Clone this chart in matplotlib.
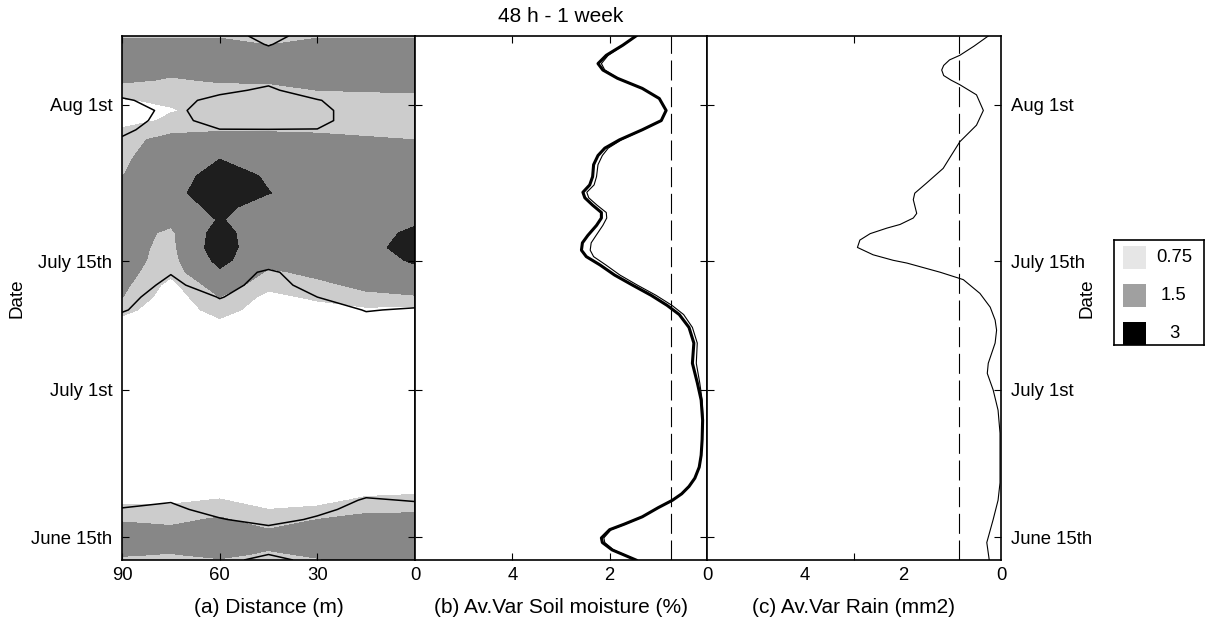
"""
Variance of soil moisture and rain, 48 h - 1 week window.
Panel (a): variance contours along the transect, (b) soil moisture, (c) rain.
"""

import matplotlib
matplotlib.use('Agg')
import matplotlib.pyplot as plt
import numpy as np
from matplotlib.patches import Rectangle

plt.rcParams['font.family'] = ['Liberation Sans', 'DejaVu Sans']
plt.rcParams['font.size'] = 13.3

# ---- data -------------------------------------------------------------
# dates are days counted from July 1st (June 15th = -16, Aug 1st = 31)
date_ticks = [-16, 0, 14, 31]
date_labels = ['June 15th', 'July 1st', 'July 15th', 'Aug 1st']

# (a) variance field along the transect
distance_m = [90, 75, 60, 45, 30, 15, 0]
row_days = [38.5, 37.6, 35.7, 33.7, 32.6, 31.5, 30.4, 29.3, 28.3, 27.2,
            25.2, 23.3, 21.4, 19.9, 18.5, 17.1, 15.5, 14.1, 12.8, 11.4,
            10.1, 8.7, 7.4, -10.9, -12.0, -13.0, -14.1, -15.4, -16.8, -17.9,
            -18.5]
var_grid = [
    [1.35, 1.35, 1.35, 1.2, 1.35, 1.35, 1.35],
    [1.9, 1.9, 1.9, 1.45, 1.9, 1.9, 1.9],
    [2.2, 2.0, 2.1, 2.1, 2.2, 2.2, 2.2],
    [1.7, 1.4, 1.6, 1.6, 1.9, 1.9, 2.0],
    [1.0, 1.1, 1.2, 1.3, 1.5, 1.55, 1.6],
    [0.7, 0.85, 1.1, 1.1, 1.2, 1.2, 1.2],
    [0.3, 0.7, 1.0, 1.0, 1.1, 1.1, 1.1],
    [0.4, 0.9, 1.1, 1.1, 1.1, 1.1, 1.1],
    [0.85, 1.3, 1.4, 1.4, 1.35, 1.3, 1.2],
    [1.2, 1.8, 2.0, 1.9, 1.8, 1.6, 1.5],
    [1.3, 2.2, 2.95, 2.3, 2.1, 2.0, 1.9],
    [1.48, 2.1, 3.8, 2.8, 2.2, 2.1, 2.0],
    [2.0, 2.5, 4.0, 3.05, 2.3, 2.2, 2.1],
    [2.0, 1.9, 3.6, 2.0, 2.2, 2.3, 2.3],
    [2.0, 1.8, 3.1, 2.2, 2.2, 2.3, 2.7],
    [2.0, 1.3, 3.6, 1.8, 2.2, 2.4, 3.3],
    [1.9, 1.2, 3.8, 1.7, 2.2, 2.4, 3.8],
    [1.9, 1.1, 3.4, 1.8, 2.0, 2.3, 3.2],
    [1.8, 0.95, 2.8, 1.35, 1.7, 2.0, 2.6],
    [1.7, 0.5, 2.0, 1.0, 1.3, 1.7, 2.0],
    [1.52, 0.3, 1.5, 0.5, 0.9, 1.3, 1.4],
    [1.0, 0.2, 1.1, 0.3, 0.4, 0.6, 0.5],
    [0.5, 0.2, 0.6, 0.2, 0.2, 0.3, 0.3],
    [0.3, 0.3, 0.4, 0.2, 0.2, 0.5, 0.6],
    [0.6, 0.6, 0.8, 0.4, 0.5, 0.9, 0.95],
    [0.95, 0.95, 1.2, 0.75, 0.9, 1.3, 1.4],
    [1.4, 1.3, 1.6, 1.1, 1.5, 1.8, 1.7],
    [1.9, 1.7, 2.1, 1.6, 1.9, 2.1, 2.0],
    [2.0, 1.8, 2.2, 1.8, 2.0, 2.2, 2.2],
    [1.6, 1.45, 1.8, 1.3, 1.7, 2.0, 2.2],
    [1.3, 1.2, 1.4, 1.1, 1.4, 1.9, 2.1],
]
# significance field, outlined with the black contour at 1
sig_grid = [
    [2, 2, 2, 0.3, 2, 2, 2],
    [2, 2, 2, 0.9, 2, 2, 2],
    [2, 2, 2, 2, 2, 2, 2],
    [2, 2, 2, 1.4, 2, 2, 2],
    [1.6, 2, 1.4, 0.7, 2, 2, 2],
    [0.8, 1.6, 0.5, 0, 0.9, 2, 2],
    [0, 1.5, 0, 0, 0.5, 2, 2],
    [0.3, 1.6, 0.3, 0, 0.5, 2, 2],
    [0.6, 2, 1.05, 1.05, 1.05, 2, 2],
    [1.2, 2, 2, 2, 2, 2, 2],
    [2, 2, 2, 2, 2, 2, 2],
    [2, 2, 2, 2, 2, 2, 2],
    [2, 2, 2, 2, 2, 2, 2],
    [2, 2, 2, 2, 2, 2, 2],
    [2, 2, 2, 2, 2, 2, 2],
    [2, 2, 2, 2, 2, 2, 2],
    [2, 2, 2, 2, 2, 2, 2],
    [2, 2, 2, 2, 2, 2, 2],
    [2, 1.1, 2, 0.7, 2, 2, 2],
    [2, 0.56, 2, 0, 2, 2, 2],
    [2, -0.58, 1.1, 0, 1.0, 2, 2],
    [1.15, 0, 0.3, 0, 0, 1.1, 0.8],
    [0.4, 0, 0, 0, 0, 0.4, 0],
    [0, 0, 0, 0, 0, 0.4, 0.3],
    [0.5, 0.8, 0, 0, 0, 1.2, 0.9],
    [1.1, 1.6, 0, 0, 0.3, 2, 1.6],
    [2, 2, 1.2, 0, 1.4, 2, 2],
    [2, 2, 2, 2, 2, 2, 2],
    [2, 2, 2, 2, 2, 2, 2],
    [2, 2, 2, 1.0, 2, 2, 2],
    [2, 2, 2, 0, 2, 2, 2],
]
fill_levels = [-1, 0.75, 1.5, 3, 10]
fill_colors = ['white', '#cccccc', '#878787', '#1e1e1e']

# (b) average variance of soil moisture (%)
soil_days = [38.5, 37.5, 36.4, 35.5, 34.8, 33.9, 32.8, 31.7, 30.4, 29.3,
             28.3, 27.2, 26.3, 25.5, 24.5, 23.2, 22.3, 21.5, 20.9, 20.1,
             19.3, 18.7, 17.9, 16.8, 16.0, 15.2, 14.5, 13.6, 12.5, 11.4,
             10.3, 9.2, 8.2, 6.8, 5.1, 2.9, 0.8, -1.1, -3.3, -5.4,
             -7.1, -8.4, -9.6, -10.5, -11.3, -12.0, -12.8, -13.8, -14.6, -15.2,
             -16.1, -16.6, -17.4, -18.5]
soil_var_a = [1.46, 1.73, 2.07, 2.24, 2.14, 1.84, 1.33, 0.98, 0.84, 0.94,
              1.33, 1.8, 2.1, 2.24, 2.33, 2.35, 2.41, 2.55, 2.51, 2.35,
              2.17, 2.17, 2.27, 2.45, 2.56, 2.58, 2.48, 2.2, 1.9, 1.53,
              1.15, 0.82, 0.57, 0.37, 0.27, 0.3, 0.2, 0.12, 0.09, 0.1,
              0.12, 0.16, 0.25, 0.37, 0.52, 0.71, 1.0, 1.33, 1.7, 2.0,
              2.17, 2.15, 1.95, 1.46]
soil_var_b = [1.46, 1.72, 2.03, 2.17, 2.10, 1.83, 1.33, 0.98, 0.84, 0.94,
              1.32, 1.76, 2.03, 2.15, 2.24, 2.27, 2.32, 2.47, 2.43, 2.26,
              2.07, 2.06, 2.14, 2.28, 2.38, 2.40, 2.33, 2.08, 1.79, 1.43,
              1.05, 0.72, 0.48, 0.3, 0.2, 0.22, 0.15, 0.1, 0.08, 0.1,
              0.12, 0.16, 0.25, 0.37, 0.52, 0.71, 1.0, 1.32, 1.68, 1.97,
              2.12, 2.1, 1.92, 1.46]
soil_threshold = 0.75

# (c) average variance of rain (mm2)
rain_days = [38.5, 37.4, 36.4, 35.9, 35.3, 34.8, 34.2, 33.7, 33.2, 32.1,
             30.4, 28.8, 27.0, 25.3, 24.1, 22.5, 21.4, 20.7, 19.2, 18.7,
             18.0, 17.6, 17.0, 16.3, 15.5, 14.7, 14.1, 13.8, 12.8, 12.0,
             10.5, 9.0, 7.6, 6.5, 5.1, 2.9, 1.8, 0.0, -2.2, -4.7,
             -10.1, -12.0, -14.1, -16.6, -18.5]
rain_var = [0.26, 0.55, 0.84, 1.05, 1.17, 1.21, 1.17, 1.02, 0.84, 0.5,
            0.36, 0.5, 0.84, 1.04, 1.18, 1.52, 1.76, 1.79, 1.72, 1.79,
            2.06, 2.33, 2.67, 2.88, 2.93, 2.61, 2.2, 1.92, 1.24, 0.77,
            0.43, 0.22, 0.12, 0.09, 0.12, 0.26, 0.28, 0.16, 0.06, 0.02,
            0.02, 0.06, 0.16, 0.29, 0.24]
rain_threshold = 0.85

legend_labels = ['0.75', '1.5', '3']
legend_colors = ['#e6e6e6', '#a0a0a0', '#000000']


def style_axis(ax):
    # black frame, ticks pointing inward on all four sides
    for spine in ax.spines.values():
        spine.set_linewidth(1.2)
        spine.set_color('black')
    ax.tick_params(direction='in', top=True, right=True, length=5, width=0.8)
    ax.tick_params(axis='x', pad=5)
    ax.tick_params(axis='y', pad=7)
    ax.set_ylim(-18.5, 38.5)
    ax.set_yticks(date_ticks)


fig = plt.figure(figsize=(12.09, 6.21), dpi=100)
W, H = 1209.0, 621.0
ax_a = fig.add_axes([122 / W, 1 - 560 / H, 293 / W, 524 / H])
ax_b = fig.add_axes([415 / W, 1 - 560 / H, 292 / W, 524 / H])
ax_c = fig.add_axes([707 / W, 1 - 560 / H, 294 / W, 524 / H])

# (a) filled contours plus the black outline
ax_a.contourf(distance_m, row_days, np.array(var_grid), levels=fill_levels,
              colors=fill_colors)
ax_a.contour(distance_m, row_days, np.array(sig_grid), levels=[1.0],
             colors='black', linewidths=1.1)
style_axis(ax_a)
ax_a.set_xlim(90, 0)
ax_a.set_xticks([90, 60, 30, 0])
ax_a.set_yticklabels(date_labels)
ax_a.set_ylabel('Date', fontsize=13.6)
ax_a.yaxis.set_label_coords(-0.331, 0.5)
ax_a.set_xlabel('(a) Distance (m)', fontsize=15, labelpad=10)

# (b) soil moisture
ax_b.plot(soil_var_a, soil_days, color='black', lw=2.2)
ax_b.plot(soil_var_b, soil_days, color='black', lw=0.8)
ax_b.axvline(soil_threshold, color='black', lw=0.8, dashes=(18, 6))
style_axis(ax_b)
ax_b.set_xlim(6, 0)
ax_b.set_xticks([4, 2, 0])
ax_b.tick_params(axis='y', labelleft=False)
ax_b.set_xlabel('(b) Av.Var Soil moisture (%)', fontsize=15, labelpad=10)
ax_b.set_title('48 h - 1 week', pad=10, fontsize=15)

# (c) rain
ax_c.plot(rain_var, rain_days, color='black', lw=0.8)
ax_c.axvline(rain_threshold, color='black', lw=0.8, dashes=(18, 6))
style_axis(ax_c)
ax_c.set_xlim(6, 0)
ax_c.set_xticks([4, 2, 0])
ax_c.set_xticks([3], minor=True)
ax_c.tick_params(axis='x', which='major', length=0)
ax_c.tick_params(axis='x', which='minor', direction='in', top=True,
                 bottom=True, length=5, width=0.8)
ax_c.tick_params(axis='y', labelleft=False, labelright=True)
ax_c.set_yticklabels(date_labels)
ax_c.yaxis.set_label_position('right')
ax_c.set_ylabel('Date', fontsize=13.6)
ax_c.yaxis.set_label_coords(1.262, 0.5)
ax_c.set_xlabel('(c) Av.Var Rain (mm2)', fontsize=15, labelpad=10)

# legend box drawn by hand so the labels sit centred beside the swatches
ax_leg = fig.add_axes([1114 / W, 1 - 345 / H, 90 / W, 105 / H])
ax_leg.set_xlim(0, 90)
ax_leg.set_ylim(105, 0)
ax_leg.set_xticks([])
ax_leg.set_yticks([])
for spine in ax_leg.spines.values():
    spine.set_linewidth(1.2)
for i, (lab, col) in enumerate(zip(legend_labels, legend_colors)):
    y0 = 6 + i * 38
    ax_leg.add_patch(Rectangle((9, y0), 23, 23, facecolor=col, edgecolor='none'))
    ax_leg.text(60, y0 + 11.5, lab, ha='center', va='center', fontsize=13.3)

fig.savefig('out.png', dpi=100)
